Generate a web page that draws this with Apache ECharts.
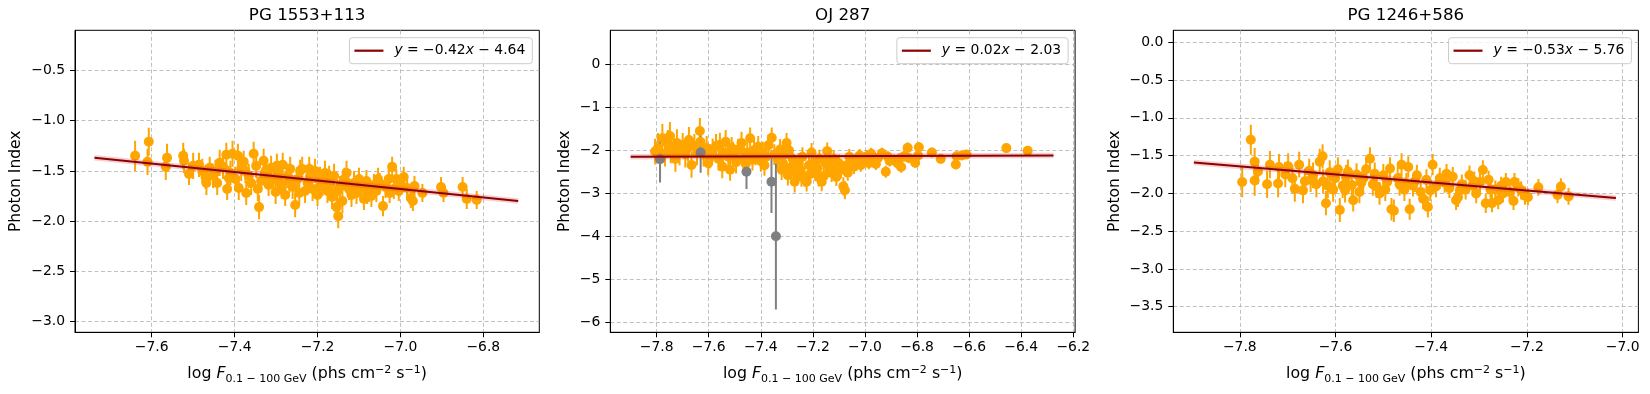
<!DOCTYPE html>
<html>
<head>
<meta charset="utf-8">
<script src="https://cdn.jsdelivr.net/npm/echarts@6/dist/echarts.min.js"></script>
<style>
html,body{margin:0;padding:0;background:#fff}
#chart{width:1650px;height:394px}
</style>
</head>
<body>
<div id="chart"></div>
<script>
// panel titles
var titles = ['PG 1553+113', 'OJ 287', 'PG 1246+586'];

// [log flux, photon index, error]
var pg1553Points = [
  [-7.640,-1.35,0.15],[-7.607,-1.21,0.14],[-7.610,-1.41,0.13],[-7.563,-1.37,0.14],[-7.566,-1.46,0.13],
  [-7.524,-1.35,0.13],[-7.522,-1.40,0.12],[-7.510,-1.53,0.11],[-7.500,-1.45,0.13],[-7.486,-1.44,0.12],
  [-7.478,-1.50,0.12],[-7.468,-1.62,0.12],[-7.460,-1.47,0.11],[-7.452,-1.55,0.12],[-7.446,-1.51,0.12],
  [-7.436,-1.42,0.13],[-7.428,-1.46,0.12],[-7.420,-1.34,0.12],[-7.418,-1.68,0.11],[-7.410,-1.52,0.12],
  [-7.405,-1.33,0.13],[-7.398,-1.58,0.12],[-7.392,-1.35,0.12],[-7.390,-1.67,0.12],[-7.384,-1.48,0.12],
  [-7.378,-1.41,0.11],[-7.372,-1.72,0.12],[-7.366,-1.55,0.12],[-7.360,-1.62,0.12],[-7.354,-1.33,0.12],
  [-7.348,-1.45,0.12],[-7.341,-1.86,0.12],[-7.336,-1.60,0.11],[-7.330,-1.40,0.12],[-7.325,-1.50,0.12],
  [-7.318,-1.64,0.11],[-7.312,-1.47,0.12],[-7.306,-1.58,0.12],[-7.301,-1.71,0.12],[-7.295,-1.52,0.12],
  [-7.290,-1.62,0.11],[-7.284,-1.44,0.12],[-7.278,-1.74,0.11],[-7.272,-1.55,0.12],[-7.266,-1.48,0.12],
  [-7.260,-1.66,0.12],[-7.254,-1.84,0.12],[-7.248,-1.58,0.12],[-7.242,-1.50,0.11],[-7.237,-1.48,0.12],
  [-7.230,-1.70,0.12],[-7.224,-1.62,0.11],[-7.218,-1.55,0.12],[-7.212,-1.68,0.12],[-7.206,-1.50,0.12],
  [-7.200,-1.74,0.11],[-7.194,-1.58,0.12],[-7.188,-1.64,0.11],[-7.182,-1.52,0.12],[-7.176,-1.70,0.12],
  [-7.170,-1.60,0.11],[-7.165,-1.76,0.12],[-7.160,-1.55,0.12],[-7.154,-1.86,0.12],[-7.150,-1.95,0.12],
  [-7.146,-1.66,0.11],[-7.140,-1.80,0.12],[-7.135,-1.58,0.11],[-7.130,-1.52,0.12],[-7.124,-1.68,0.11],
  [-7.118,-1.74,0.12],[-7.112,-1.62,0.12],[-7.106,-1.72,0.11],[-7.100,-1.58,0.11],[-7.094,-1.66,0.11],
  [-7.088,-1.78,0.11],[-7.082,-1.60,0.11],[-7.076,-1.70,0.11],[-7.070,-1.75,0.11],[-7.064,-1.64,0.11],
  [-7.058,-1.70,0.11],[-7.050,-1.62,0.10],[-7.042,-1.85,0.10],[-7.036,-1.66,0.11],[-7.028,-1.58,0.10],
  [-7.020,-1.46,0.10],[-7.016,-1.68,0.10],[-7.010,-1.58,0.10],[-7.004,-1.70,0.10],[-6.992,-1.56,0.10],
  [-6.984,-1.67,0.10],[-6.975,-1.77,0.10],[-6.970,-1.80,0.10],[-6.966,-1.65,0.10],[-6.947,-1.72,0.09],
  [-6.902,-1.66,0.10],[-6.896,-1.72,0.09],[-6.850,-1.66,0.10],[-6.840,-1.78,0.10],[-6.816,-1.79,0.09],
  [-7.470,-1.56,0.12],[-7.442,-1.62,0.12],[-7.414,-1.57,0.12],[-7.374,-1.50,0.12],[-7.344,-1.68,0.12],
  [-7.322,-1.56,0.12],[-7.298,-1.45,0.12],[-7.268,-1.60,0.12],[-7.244,-1.72,0.12],[-7.220,-1.48,0.12],
  [-7.196,-1.66,0.11],[-7.172,-1.56,0.11],[-7.152,-1.70,0.11],[-7.128,-1.62,0.11],[-7.104,-1.66,0.11],
  [-7.080,-1.72,0.11],[-7.054,-1.58,0.11],[-7.026,-1.72,0.10],[-6.998,-1.64,0.10],[-7.286,-1.66,0.12]
];

var oj287Points = [
  [-7.806,-2.03,0.30],[-7.795,-1.95,0.35],[-7.778,-1.72,0.33],[-7.768,-2.08,0.30],[-7.757,-1.85,0.32],
  [-7.749,-1.67,0.33],[-7.746,-2.02,0.28],[-7.735,-1.92,0.30],[-7.722,-1.83,0.32],[-7.712,-2.05,0.30],
  [-7.700,-1.88,0.28],[-7.690,-2.10,0.30],[-7.680,-1.95,0.30],[-7.666,-2.34,0.30],[-7.655,-1.90,0.28],
  [-7.645,-2.05,0.30],[-7.634,-1.55,0.30],[-7.632,-1.80,0.28],[-7.620,-2.10,0.28],[-7.608,-1.95,0.28],
  [-7.595,-2.14,0.28],[-7.585,-2.00,0.27],[-7.572,-1.90,0.28],[-7.562,-2.20,0.27],[-7.557,-1.87,0.28],
  [-7.545,-2.05,0.27],[-7.535,-1.80,0.27],[-7.525,-2.15,0.27],[-7.518,-2.45,0.26],[-7.506,-2.06,0.26],
  [-7.495,-2.28,0.26],[-7.487,-1.99,0.26],[-7.474,-1.83,0.26],[-7.465,-2.18,0.26],[-7.452,-2.05,0.25],
  [-7.441,-1.72,0.25],[-7.432,-2.22,0.25],[-7.420,-2.10,0.25],[-7.410,-1.92,0.25],[-7.400,-2.25,0.25],
  [-7.392,-2.05,0.25],[-7.380,-2.15,0.24],[-7.370,-1.88,0.24],[-7.358,-1.71,0.24],[-7.348,-2.10,0.24],
  [-7.336,-2.20,0.24],[-7.326,-1.98,0.24],[-7.315,-2.30,0.24],[-7.308,-2.10,0.23],[-7.301,-1.83,0.23],
  [-7.292,-2.00,0.23],[-7.285,-2.40,0.24],[-7.278,-2.20,0.23],[-7.270,-2.73,0.25],[-7.262,-2.55,0.24],
  [-7.255,-2.30,0.23],[-7.249,-2.45,0.23],[-7.240,-2.15,0.22],[-7.232,-2.62,0.23],[-7.224,-2.73,0.23],
  [-7.215,-2.35,0.22],[-7.205,-2.05,0.22],[-7.198,-2.30,0.22],[-7.190,-2.50,0.22],[-7.182,-2.42,0.22],
  [-7.175,-2.20,0.21],[-7.166,-2.73,0.22],[-7.158,-2.60,0.22],[-7.150,-2.30,0.21],[-7.145,-2.02,0.20],
  [-7.136,-2.40,0.21],[-7.128,-2.53,0.21],[-7.120,-2.20,0.20],[-7.110,-2.62,0.21],[-7.100,-2.30,0.20],
  [-7.092,-2.45,0.20],[-7.083,-2.84,0.21],[-7.077,-2.93,0.21],[-7.070,-2.35,0.19],[-7.060,-2.15,0.18],
  [-7.050,-2.25,0.18],[-7.042,-2.38,0.17],[-7.032,-2.20,0.16],[-7.020,-2.12,0.15],[-7.008,-2.28,0.15],
  [-6.995,-2.15,0.15],[-6.985,-2.30,0.14],[-6.976,-2.08,0.14],[-6.965,-2.22,0.14],[-6.950,-2.18,0.13],
  [-6.935,-2.07,0.13],[-6.920,-2.50,0.14],[-6.905,-2.25,0.13],[-6.888,-2.22,0.13],[-6.875,-2.30,0.13],
  [-6.861,-2.39,0.13],[-6.850,-2.14,0.12],[-6.836,-1.94,0.12],[-6.832,-2.18,0.12],[-6.807,-2.29,0.12],
  [-6.796,-2.12,0.12],[-6.793,-1.93,0.12],[-6.743,-2.05,0.11],[-6.709,-2.20,0.11],[-6.651,-2.33,0.11],
  [-6.648,-2.14,0.11],[-6.628,-2.12,0.10],[-6.610,-2.10,0.10],[-6.457,-1.95,0.08],[-6.375,-2.01,0.08],
  [-7.728,-2.20,0.30],[-7.676,-1.76,0.30],[-7.602,-2.30,0.28],[-7.548,-2.38,0.27],[-7.512,-1.95,0.26],
  [-7.458,-2.32,0.25],[-7.426,-2.00,0.25],[-7.386,-2.35,0.24],[-7.320,-2.45,0.24],[-7.296,-2.58,0.24],
  [-7.244,-2.62,0.23],[-7.210,-2.55,0.22],[-7.178,-2.62,0.22],[-7.140,-2.22,0.21],[-7.104,-2.42,0.20],
  [-7.066,-2.52,0.19],[-7.016,-2.35,0.15],[-6.958,-2.32,0.14],[-6.912,-2.15,0.13],[-6.868,-2.20,0.13]
];

// low-significance bins drawn in grey
var oj287Grey = [
  [-7.787,-2.21,0.54],[-7.631,-2.05,0.47],[-7.455,-2.50,0.40],[-7.359,-2.73,0.73],[-7.342,-4.00,1.70]
];

var pg1246Points = [
  [-7.795,-1.85,0.20],[-7.777,-1.29,0.20],[-7.769,-1.58,0.18],[-7.769,-1.83,0.20],[-7.762,-1.71,0.17],
  [-7.743,-1.88,0.18],[-7.737,-1.62,0.18],[-7.720,-1.87,0.18],[-7.718,-1.65,0.17],[-7.705,-1.75,0.17],
  [-7.699,-1.64,0.17],[-7.690,-1.80,0.17],[-7.685,-1.94,0.17],[-7.676,-1.62,0.17],[-7.668,-1.96,0.17],
  [-7.664,-1.84,0.17],[-7.655,-1.70,0.16],[-7.647,-1.76,0.17],[-7.640,-1.88,0.17],[-7.633,-1.58,0.17],
  [-7.627,-1.51,0.16],[-7.626,-1.84,0.16],[-7.620,-2.13,0.16],[-7.612,-1.72,0.16],[-7.605,-1.95,0.16],
  [-7.601,-1.80,0.16],[-7.595,-1.68,0.16],[-7.591,-2.22,0.16],[-7.585,-1.90,0.16],[-7.578,-1.78,0.16],
  [-7.574,-1.71,0.16],[-7.566,-1.89,0.16],[-7.563,-2.09,0.15],[-7.556,-1.75,0.15],[-7.550,-1.98,0.15],
  [-7.542,-1.80,0.15],[-7.536,-1.68,0.15],[-7.528,-1.54,0.15],[-7.522,-1.88,0.15],[-7.514,-1.91,0.15],
  [-7.508,-2.00,0.15],[-7.500,-1.76,0.15],[-7.492,-1.85,0.15],[-7.486,-1.67,0.15],[-7.483,-2.21,0.15],
  [-7.478,-2.23,0.15],[-7.470,-1.80,0.15],[-7.462,-1.62,0.15],[-7.456,-1.95,0.15],[-7.452,-1.87,0.14],
  [-7.448,-1.65,0.14],[-7.445,-2.21,0.14],[-7.438,-1.90,0.14],[-7.430,-1.76,0.14],[-7.422,-1.98,0.14],
  [-7.417,-2.07,0.14],[-7.410,-1.82,0.14],[-7.407,-2.18,0.14],[-7.397,-1.62,0.14],[-7.390,-1.91,0.14],
  [-7.382,-1.80,0.14],[-7.372,-1.86,0.13],[-7.362,-1.93,0.13],[-7.355,-1.78,0.13],[-7.348,-2.09,0.13],
  [-7.344,-2.05,0.13],[-7.336,-1.88,0.13],[-7.328,-1.95,0.13],[-7.320,-1.76,0.13],[-7.313,-1.90,0.13],
  [-7.306,-2.00,0.13],[-7.298,-1.85,0.13],[-7.292,-1.69,0.13],[-7.286,-2.13,0.13],[-7.280,-1.82,0.12],
  [-7.273,-2.13,0.12],[-7.266,-1.95,0.12],[-7.260,-2.09,0.12],[-7.254,-1.90,0.12],[-7.244,-1.85,0.12],
  [-7.236,-1.98,0.12],[-7.228,-2.10,0.12],[-7.226,-1.85,0.12],[-7.212,-1.96,0.12],[-7.204,-2.03,0.12],
  [-7.198,-2.05,0.11],[-7.176,-1.92,0.11],[-7.136,-2.02,0.11],[-7.129,-1.91,0.11],[-7.113,-2.04,0.11],
  [-7.652,-1.82,0.16],[-7.616,-1.90,0.16],[-7.580,-1.96,0.16],[-7.546,-1.86,0.15],[-7.518,-1.74,0.15],
  [-7.496,-1.95,0.15],[-7.466,-1.88,0.15],[-7.434,-1.84,0.14],[-7.402,-1.96,0.14],[-7.368,-1.74,0.13],
  [-7.340,-1.96,0.13],[-7.310,-1.84,0.13],[-7.276,-1.95,0.12],[-7.250,-2.00,0.12],[-7.218,-1.92,0.12]
];

// linear fits: slope, intercept and drawn end points
var fitSlopes = [-0.42, 0.02, -0.53];
var fitIntercepts = [-4.64, -2.03, -5.76];
var fitEnds = [
  [[-7.738,-1.37],[-6.716,-1.80]],
  [[-7.900,-2.15],[-6.276,-2.12]],
  [[-7.896,-1.59],[-7.014,-2.06]]
];

// axis ranges and ticks
var xRanges = [[-7.785,-6.665],[-7.978,-6.193],[-7.939,-6.967]];
var yRanges = [[-3.105,-0.102],[-6.233,0.79],[-3.839,0.159]];
var xTicks = [
  [-7.6,-7.4,-7.2,-7.0,-6.8],
  [-7.8,-7.6,-7.4,-7.2,-7.0,-6.8,-6.6,-6.4,-6.2],
  [-7.8,-7.6,-7.4,-7.2,-7.0]
];
var yTicks = [
  [-3.0,-2.5,-2.0,-1.5,-1.0,-0.5],
  [-6,-5,-4,-3,-2,-1,0],
  [-3.5,-3.0,-2.5,-2.0,-1.5,-1.0,-0.5,0.0]
];
var yDecimals = [1, 0, 1];

var FONT = 'DejaVu Sans';
var gridBoxes = [
  {left: 75, top: 30.3, width: 464.3, height: 302},
  {left: 610.3, top: 30.3, width: 464.8, height: 302},
  {left: 1173.3, top: 30.3, width: 465.1, height: 302}
];
var yNameGaps = [51, 37, 50];

function minus(v, d) {
  return (v < 0 ? '\u2212' : '') + Math.abs(v).toFixed(d);
}

function fitText(i) {
  var a = fitSlopes[i], b = fitIntercepts[i];
  return '{i|y}{n| = ' + minus(a, 2) + '}{i|x}{n| ' + (b < 0 ? '\u2212' : '+') + ' ' + Math.abs(b).toFixed(2) + '}';
}

function errorBar(params, api) {
  var a = api.coord([api.value(0), api.value(1)]);
  var b = api.coord([api.value(0), api.value(2)]);
  return {
    type: 'line',
    shape: {x1: a[0], y1: a[1], x2: b[0], y2: b[1]},
    style: {stroke: api.visual('color'), lineWidth: 2}
  };
}

var richMath = {
  n: {fontFamily: FONT, fontSize: 13.9, color: '#000'},
  i: {fontFamily: FONT, fontSize: 13.9, fontStyle: 'italic', color: '#000'}
};
var xName = '{n|log }{i|F}{s|0.1 \u2212 100 GeV}{n| (phs cm}{p|\u22122}{n| s}{p|\u22121}{n|)}';
var xRich = {
  n: {fontFamily: FONT, fontSize: 15.8, lineHeight: 20, color: '#000'},
  i: {fontFamily: FONT, fontSize: 15.8, fontStyle: 'italic', lineHeight: 20, color: '#000'},
  s: {fontFamily: FONT, fontSize: 11, lineHeight: 11, verticalAlign: 'bottom', color: '#000'},
  p: {fontFamily: FONT, fontSize: 11, lineHeight: 11, verticalAlign: 'top', color: '#000'}
};

var panels = [
  {orange: pg1553Points, grey: []},
  {orange: oj287Points, grey: oj287Grey},
  {orange: pg1246Points, grey: []}
];

var option = {
  animation: false,
  backgroundColor: '#fff',
  title: [], grid: [], xAxis: [], yAxis: [], legend: [], series: []
};

panels.forEach(function (p, k) {
  var box = gridBoxes[k];
  option.title.push({
    text: titles[k], left: box.left + box.width / 2, top: 7, textAlign: 'center', padding: 0,
    textStyle: {fontFamily: FONT, fontSize: 16.7, fontWeight: 'normal', color: '#000'}
  });
  option.grid.push({
    left: box.left, top: box.top, width: box.width, height: box.height,
    show: true, borderColor: '#000', borderWidth: 1, backgroundColor: 'transparent'
  });
  var split = {show: true, lineStyle: {color: '#b0b0b0', width: 0.8, type: [4, 2.5]}};
  option.xAxis.push({
    type: 'value', gridIndex: k, min: xRanges[k][0], max: xRanges[k][1],
    axisLine: {show: true, onZero: false, lineStyle: {color: '#000', width: 1}},
    axisTick: {show: true, inside: false, length: 5, customValues: xTicks[k], lineStyle: {color: '#000'}},
    axisLabel: {customValues: xTicks[k], margin: 8, fontFamily: FONT, fontSize: 13.9, color: '#000',
      formatter: function (v) { return minus(v, 1); }},
    splitLine: split,
    name: xName, nameLocation: 'middle', nameGap: 32,
    nameTextStyle: {rich: xRich}
  });
  option.yAxis.push({
    type: 'value', gridIndex: k, min: yRanges[k][0], max: yRanges[k][1],
    axisLine: {show: true, onZero: false, lineStyle: {color: '#000', width: 1}},
    axisTick: {show: true, inside: false, length: 5, customValues: yTicks[k], lineStyle: {color: '#000'}},
    axisLabel: {customValues: yTicks[k], margin: 10, fontFamily: FONT, fontSize: 13.9, color: '#000',
      formatter: function (v) { return minus(v, yDecimals[k]); }},
    splitLine: split,
    name: 'Photon Index', nameLocation: 'middle', nameGap: yNameGaps[k],
    nameTextStyle: {fontFamily: FONT, fontSize: 15.5, color: '#000'}
  });
  var fitName = 'fit' + k;
  option.legend.push({
    data: [fitName], selectedMode: false,
    right: 1650 - (box.left + box.width - 7), top: 37.7,
    icon: 'rect', itemWidth: 29, itemHeight: 2.2,
    padding: [6, 7, 6, 5],
    borderColor: '#cccccc', borderWidth: 1, borderRadius: 3,
    backgroundColor: 'rgba(255,255,255,0.8)',
    formatter: function () { return fitText(k); },
    textStyle: {fontFamily: FONT, fontSize: 13.9, color: '#000', padding: [0, 0, 0, 6], rich: richMath}
  });

  var groups = [{pts: p.orange, color: '#FFA500'}, {pts: p.grey, color: '#808080'}];
  groups.forEach(function (g) {
    if (!g.pts.length) return;
    option.series.push({
      type: 'custom', xAxisIndex: k, yAxisIndex: k, clip: true,
      renderItem: errorBar, itemStyle: {color: g.color}, silent: true,
      encode: {x: 0, y: [1, 2]},
      data: g.pts.map(function (d) { return [d[0], d[1] - d[2], d[1] + d[2]]; })
    });
    option.series.push({
      type: 'scatter', xAxisIndex: k, yAxisIndex: k, symbolSize: 10, silent: true,
      itemStyle: {color: g.color, opacity: 1},
      data: g.pts.map(function (d) { return [d[0], d[1]]; })
    });
  });
  // confidence band (thin pink halo) and best fit line
  option.series.push({
    type: 'line', xAxisIndex: k, yAxisIndex: k, symbol: 'none', silent: true,
    lineStyle: {color: 'rgba(220,40,60,0.22)', width: 5.5},
    data: fitEnds[k]
  });
  option.series.push({
    name: fitName, type: 'line', xAxisIndex: k, yAxisIndex: k, symbol: 'none', silent: true,
    color: '#8B0000', itemStyle: {color: '#8B0000'},
    lineStyle: {color: '#8B0000', width: 2},
    data: fitEnds[k]
  });
});

var myChart = echarts.init(document.getElementById('chart'));
myChart.setOption(option);
</script>
</body>
</html>
